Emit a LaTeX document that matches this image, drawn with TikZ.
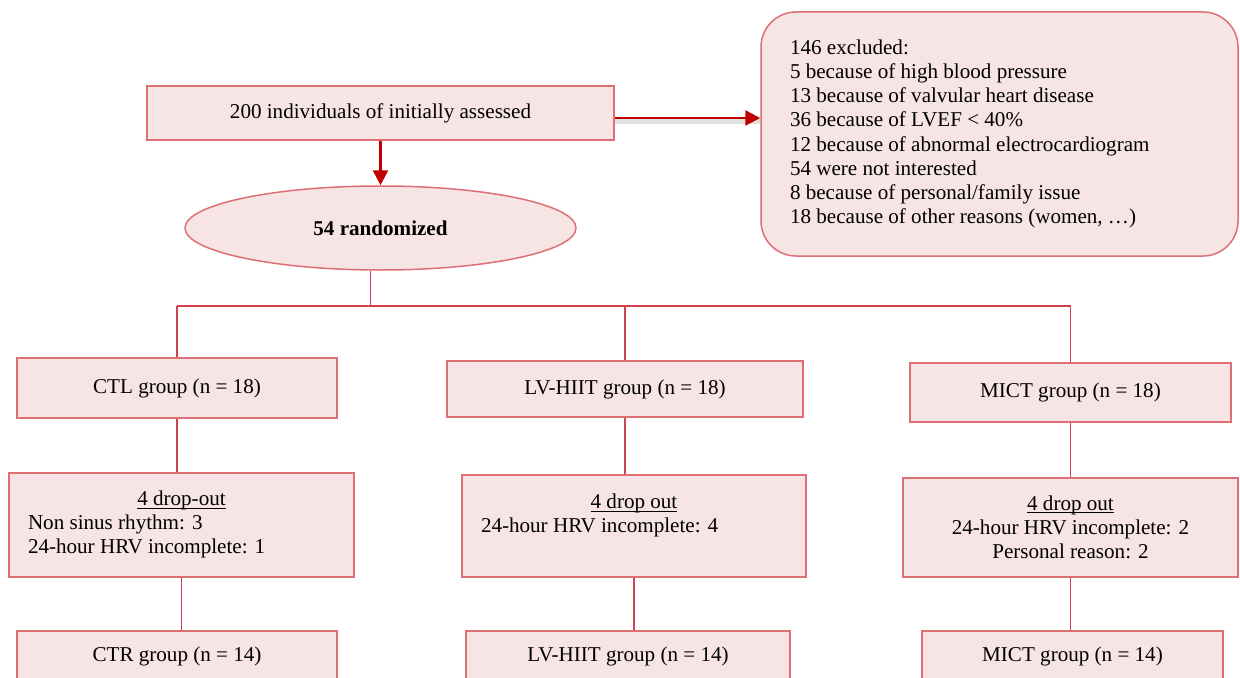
\documentclass[tikz,border=0pt]{standalone}
\usepackage{fontspec}
\setmainfont{Liberation Serif}
\usetikzlibrary{arrows.meta,shapes.geometric}
\definecolor{boxfill}{HTML}{F7E4E5}
\definecolor{boxline}{HTML}{DE6F74}
\definecolor{linkred}{HTML}{D0434C}
\definecolor{arrred}{HTML}{C00000}
\newcommand{\dropline}[1]{\underline{\smash{#1}}\vphantom{4}}

\begin{document}
\begin{tikzpicture}[
	  box/.style={draw=boxline, fill=boxfill, line width=0.03cm, inner sep=0pt, font=\fontsize{12}{13.8}\selectfont},
	  link/.style={draw=linkred, line width=0.03cm},
	  arr/.style={draw=arrred, line width=0.05cm, -{Triangle[length=0.3cm,width=0.3cm]}},
	  shade/.style={preaction={draw=black!12, line width=0.1cm, -, transform canvas={yshift=-0.06cm}}}
	]
	  \useasboundingbox (0,0) rectangle (24.8,-13.54);

	  \node [box, minimum width=9.34cm, minimum height=1.08cm] (assessed) at (7.61,-2.26) {200 individuals of initially assessed};
	  \node [box, rounded corners=0.7cm, minimum height=4.88cm, text width=8.38cm, inner xsep=0.58cm, align=flush left] (excluded) at (19.99,-2.68) {146 excluded:\\ 5 because of high blood pressure\\ 13 because of valvular heart disease\\ 36 because of LVEF < 40\%\\ 12 because of abnormal electrocardiogram\\ 54 were not interested\\ 8 because of personal/family issue\\ 18 because of other reasons (women, …)};
	  \node [box, ellipse, minimum width=7.82cm, minimum height=1.68cm] (rand) at (7.61,-4.56) {\textbf{54 randomized}};

	  \draw [arr] (assessed.south) -- (rand.north);
	  \draw [arr, shade] ([yshift=-0.1cm]assessed.east) -- ([yshift=-0.1cm]assessed.east -| excluded.west);

	  \node [box, minimum width=6.4cm, minimum height=1.2cm] (ctl) at (3.54,-7.76) {CTL group (n = 18)};
	  \node [box, minimum width=7.12cm, minimum height=1.12cm] (lvhiit) at (12.5,-7.78) {LV-HIIT group (n = 18)};
	  \node [box, minimum width=6.42cm, minimum height=1.18cm] (mict) at (21.41,-7.85) {MICT group (n = 18)};

	  \node [box, minimum height=2.08cm, text width=6.14cm, inner xsep=0.38cm, align=flush left] (ctldrop) at (3.63,-10.5) {\makebox[\hsize]{\dropline{4 drop-out}}\\ Non sinus rhythm: 3\\ 24-hour HRV incomplete: 1};
	  \node [box, minimum height=2.04cm, text width=6.12cm, inner xsep=0.38cm, align=flush left] (lvdrop) at (12.68,-10.52) {\makebox[\hsize]{\dropline{4 drop out}}\\ 24-hour HRV incomplete: 4\\ \mbox{}};
	  \node [box, minimum width=6.7cm, minimum height=1.98cm, align=center] (mictdrop) at (21.41,-10.55) {\dropline{4 drop out}\\ 24-hour HRV incomplete: 2\\ Personal reason: 2};

	  \node [box, minimum width=6.4cm, minimum height=1.0cm] (ctr) at (3.54,-13.12) {CTR group (n = 14)};
	  \node [box, minimum width=6.48cm, minimum height=1.0cm] (lvend) at (12.56,-13.12) {LV-HIIT group (n = 14)};
	  \node [box, minimum width=6.02cm, minimum height=1.0cm] (mictend) at (21.45,-13.12) {MICT group (n = 14)};

	  % branch to the three groups
	  \coordinate (split) at (7.41,-6.12);
	  \draw [link] (split |- rand.south) -- (split);
	  \draw [link] (ctl.north |- split) -- (mict.north |- split);
	  \draw [link] (ctl.north |- split) -- (ctl.north);
	  \draw [link] (lvhiit.north |- split) -- (lvhiit.north);
	  \draw [link] (mict.north |- split) -- (mict.north);

	  \draw [link] (ctl.south) -- (ctl.south |- ctldrop.north);
	  \draw [link] (lvhiit.south) -- (lvhiit.south |- lvdrop.north);
	  \draw [link] (mict.south) -- (mict.south |- mictdrop.north);

	  \draw [link] (ctldrop.south) -- (ctldrop.south |- ctr.north);
	  \draw [link] (lvdrop.south) -- (lvdrop.south |- lvend.north);
	  \draw [link] (mictdrop.south) -- (mictdrop.south |- mictend.north);

	\end{tikzpicture}
\end{document}
